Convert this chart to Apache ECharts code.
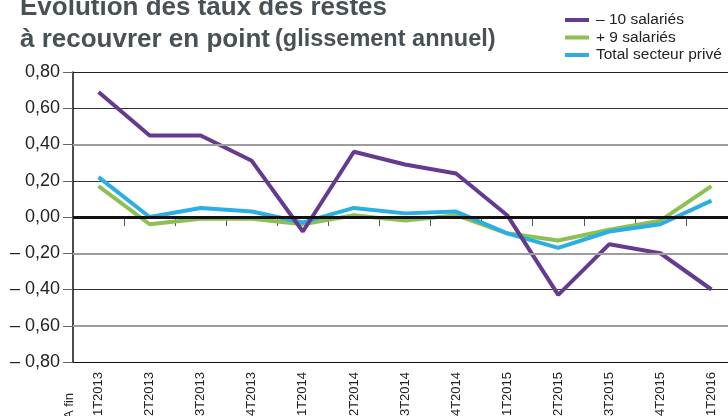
<!DOCTYPE html>
<html>
<head>
<meta charset="utf-8">
<script src="https://cdn.jsdelivr.net/npm/echarts@6/dist/echarts.min.js"></script>
<style>
html,body{margin:0;padding:0;background:#fff;}
#c{width:728px;height:416px;}
</style>
</head>
<body>
<div id="c"></div>
<script>
const categories = ['1T2013','2T2013','3T2013','4T2013','1T2014','2T2014','3T2014','4T2014','1T2015','2T2015','3T2015','4T2015','1T2016'];
const moins10 = [0.69,0.45,0.45,0.31,-0.08,0.36,0.29,0.24,0.01,-0.43,-0.15,-0.20,-0.40];
const plus9 = [0.17,-0.04,-0.01,-0.01,-0.04,0.01,-0.02,0.01,-0.09,-0.13,-0.07,-0.02,0.17];
const total = [0.22,0.00,0.05,0.03,-0.03,0.05,0.02,0.03,-0.09,-0.17,-0.08,-0.04,0.09];
const seriesNames = ['– 10 salariés','+ 9 salariés','Total secteur privé'];
const grayLines = [0.4,-0.2,-0.6];

const chart = echarts.init(document.getElementById('c'));
const fmt = v => (v < -1e-9 ? '– ' : '') + Math.abs(v).toFixed(2).replace('.', ',');

chart.setOption({
  animation: false,
  textStyle: {fontFamily: 'Liberation Sans, Arial, sans-serif'},
  title: {
    left: 15, top: -13,
    text: '{m|Evolution des taux des restes}\n{m|à recouvrer en point} {s|(glissement annuel)}',
    textStyle: {
      rich: {
        m: {fontSize: 26, fontWeight: 'bold', color: '#485156', lineHeight: 32, fontFamily: 'Liberation Sans, Arial'},
        s: {fontSize: 23.5, fontWeight: 'bold', color: '#485156', lineHeight: 32, fontFamily: 'Liberation Sans, Arial'}
      }
    }
  },
  legend: {
    orient: 'vertical', left: 560, top: 7,
    data: seriesNames,
    icon: 'rect', itemWidth: 24, itemHeight: 4, itemGap: 1.5,
    textStyle: {fontSize: 15.5, color: '#222', lineHeight: 15, padding: [0,0,0,2]}
  },
  grid: {left: 73, right: -9, top: 72, bottom: 54, containLabel: false, outerBoundsMode: 'none'},
  xAxis: {
    type: 'category', data: categories, boundaryGap: true,
    axisLine: {lineStyle: {color: '#111', width: 1.5}},
    axisTick: {show: true, alignWithLabel: false, length: 9, lineStyle: {color: '#555'}},
    axisLabel: {rotate: 90, fontSize: 13, color: '#222', margin: 10, interval: 0},
    splitLine: {show: false}
  },
  yAxis: {
    type: 'value', min: -0.8, max: 0.8, interval: 0.2,
    axisLine: {show: true, lineStyle: {color: '#111', width: 1.5}},
    axisTick: {show: true, length: 10, lineStyle: {color: '#666'}},
    axisLabel: {fontSize: 18, color: '#222', margin: 13, formatter: fmt},
    splitLine: {show: true, lineStyle: {width: 1, color: ['#111','#9d9d9d','#333','#9d9d9d','#111','#333','#9d9d9d','#333','#222']}}
  },
  graphic: [{
    type: 'text', x: 69, y: 393, rotation: Math.PI/2,
    style: {text: 'A fin', fontSize: 13, fill: '#222', align: 'right', verticalAlign: 'middle', fontFamily: 'Liberation Sans, Arial'}
  }],
  series: [
    {
      type: 'line', data: [], silent: true,
      markLine: {
        silent: true, symbol: 'none', label: {show: false},
        data: grayLines.map(v => ({yAxis: v, lineStyle: {color: '#9d9d9d', width: 2, type: 'solid'}}))
              .concat([{yAxis: 0, lineStyle: {color: '#111', width: 3, type: 'solid'}}])
      }
    },
    {name: seriesNames[1], type: 'line', data: plus9, showSymbol: false, symbol: 'none', color: '#8cc152', lineStyle: {width: 4, color: '#8cc152'}},
    {name: seriesNames[2], type: 'line', data: total, showSymbol: false, symbol: 'none', color: '#2aaee3', lineStyle: {width: 4, color: '#2aaee3'}},
    {name: seriesNames[0], type: 'line', data: moins10, showSymbol: false, symbol: 'none', color: '#653a90', lineStyle: {width: 4, color: '#653a90'}}
  ]
});
</script>
</body>
</html>
